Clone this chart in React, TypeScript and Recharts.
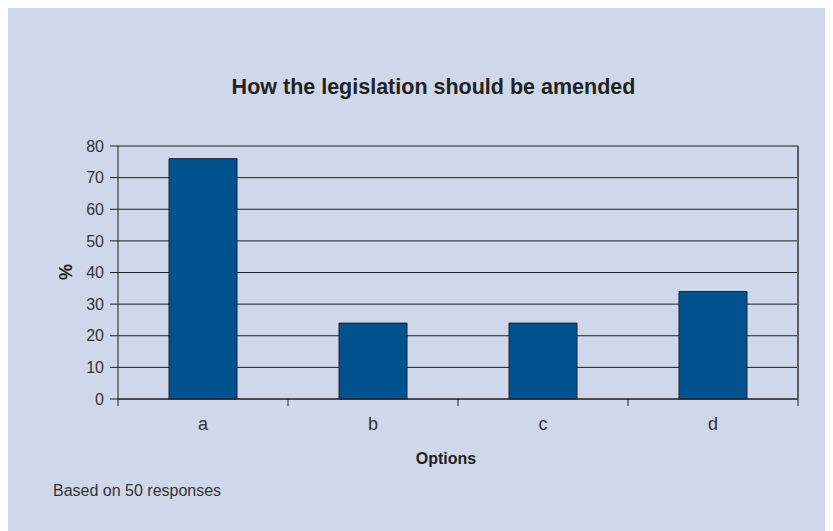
import React from "react";
import { ComposedChart, Bar, Line, XAxis, YAxis, CartesianGrid } from "recharts";

const categories = ["a", "b", "c", "d"];
const percentValues = [76, 24, 24, 34];
const yTicks = [0, 10, 20, 30, 40, 50, 60, 70, 80];
const edgeTicks = [0, 1, 2, 3, 4];

const data = categories.map((c, i) => ({ option: c, pct: percentValues[i], idx: i + 0.5 }));

const FONT = "'Liberation Sans', Arial, Helvetica, sans-serif";
const BG = "#cfd8ea";

const EmptyTick = () => <g />;

export default function App() {
  return (
    <div style={{ position: "relative", width: 825, height: 523, background: BG, fontFamily: FONT }}>
      <div
        style={{
          position: "absolute",
          left: 0,
          width: 851,
          top: 67,
          textAlign: "center",
          fontWeight: "bold",
          fontSize: 21.5,
          color: "#222",
        }}
      >
        How the legislation should be amended
      </div>
      <ComposedChart
        width={825}
        height={523}
        data={data}
        margin={{ top: 138, right: 34, bottom: 101, left: 0 }}
        barCategoryGap="30%"
      >
        <CartesianGrid
          vertical={false}
          stroke="#1e1e1e"
          strokeOpacity={1}
          xAxisId="zcat"
          yAxisId="left"
        />
        <XAxis
          xAxisId="aedge"
          type="number"
          dataKey="idx"
          domain={[0, 4]}
          ticks={edgeTicks}
          height={1}
          tickSize={7}
          tickLine={{ stroke: "#1e1e1e" }}
          axisLine={{ stroke: "#1e1e1e" }}
          tick={EmptyTick}
          interval={0}
          allowDataOverflow
        />
        <XAxis
          xAxisId="zcat"
          dataKey="option"
          height={30}
          tickLine={false}
          axisLine={false}
          tickSize={6}
          tickMargin={11}
          tick={{ fontSize: 18, fill: "#333", fontFamily: FONT }}
        />
        <YAxis
          yAxisId="left"
          type="number"
          domain={[0, 80]}
          ticks={yTicks}
          width={110}
          tickSize={8}
          tickMargin={6}
          tickLine={{ stroke: "#1e1e1e" }}
          axisLine={{ stroke: "#1e1e1e" }}
          tick={{ fontSize: 16, fill: "#333", fontFamily: FONT }}
          interval={0}
        />
        <YAxis
          yAxisId="right"
          type="number"
          orientation="right"
          domain={[0, 80]}
          width={1}
          tick={false}
          tickLine={false}
          axisLine={{ stroke: "#5a5d66", strokeWidth: 2 }}
          allowDataOverflow
        />
        <Bar
          dataKey="pct"
          xAxisId="zcat"
          yAxisId="left"
          fill="#00528f"
          stroke="#1e2030"
          strokeWidth={1}
          isAnimationActive={false}
        />
        <Line
          dataKey="pct"
          xAxisId="aedge"
          yAxisId="right"
          stroke="none"
          dot={false}
          activeDot={false}
          legendType="none"
          isAnimationActive={false}
        />
      </ComposedChart>
      <div
        style={{
          position: "absolute",
          left: 46,
          top: 252,
          width: 24,
          height: 24,
          display: "flex",
          alignItems: "center",
          justifyContent: "center",
          transform: "rotate(-90deg)",
          fontWeight: "bold",
          fontSize: 18,
          color: "#222",
        }}
      >
        %
      </div>
      <div
        style={{
          position: "absolute",
          left: 388,
          width: 100,
          top: 442,
          textAlign: "center",
          fontWeight: "bold",
          fontSize: 16,
          color: "#222",
        }}
      >
        Options
      </div>
      <div
        style={{
          position: "absolute",
          left: 45,
          top: 474,
          fontSize: 16,
          color: "#333",
        }}
      >
        Based on 50 responses
      </div>
    </div>
  );
}
